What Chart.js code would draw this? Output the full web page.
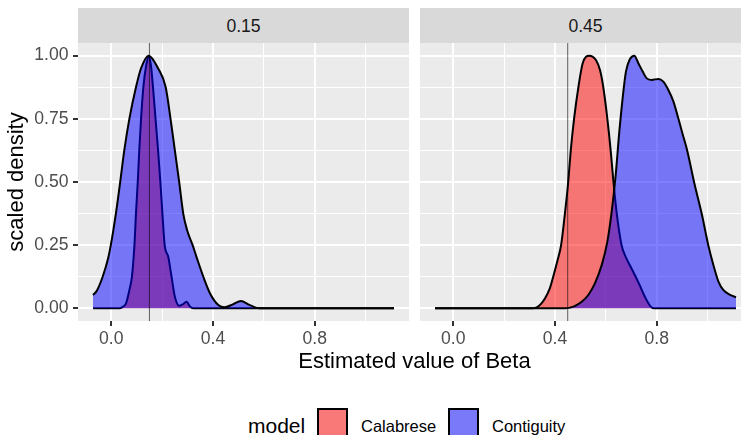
<!DOCTYPE html>
<html>
<head>
<meta charset="utf-8">
<script src="https://cdn.jsdelivr.net/npm/chart.js@4/dist/chart.umd.min.js"></script>
<style>
  html, body { margin: 0; padding: 0; background: #ffffff; }
  body { width: 741px; height: 435px; overflow: hidden; position: relative;
         font-family: "Liberation Sans", Arial, sans-serif; }
  .abs { position: absolute; white-space: nowrap; }
  .strip { position: absolute; top: 8px; height: 35px; background: #D9D9D9; }
  .striptxt { position: absolute; left: 0; right: 0; top: 10px; text-align: center;
              font-size: 17.6px; line-height: 17.6px; color: #1A1A1A; }
  .key { position: absolute; top: 408px; width: 27px; height: 27px; border: 2px solid #000; }
  canvas { position: absolute; }
</style>
</head>
<body>
<div class="strip" style="left:78px;width:331px;"><div class="striptxt" id="strip1"></div></div>
<div class="strip" style="left:420px;width:331px;"><div class="striptxt" id="strip2"></div></div>
<canvas id="c1" width="410" height="325" style="left:0px;top:28px;"></canvas>
<canvas id="c2" width="332" height="325" style="left:420px;top:28px;"></canvas>
<div class="abs" id="xtitle" style="left:0;width:829px;top:350px;text-align:center;font-size:22px;line-height:22px;color:#000;"></div>
<div class="abs" id="legtitle" style="left:248px;top:415px;font-size:21px;line-height:21px;color:#000;"></div>
<div class="key" style="left:317px;background:linear-gradient(rgba(255,0,0,0.5),rgba(255,0,0,0.5)),#F2F2F2;"></div>
<div class="abs" id="leg1" style="left:361px;top:418px;font-size:16.5px;line-height:16.5px;color:#000;"></div>
<div class="key" style="left:448px;background:linear-gradient(rgba(0,0,255,0.5),rgba(0,0,255,0.5)),#F2F2F2;"></div>
<div class="abs" id="leg2" style="left:492px;top:418px;font-size:16.5px;line-height:16.5px;color:#000;"></div>
<script>
// ---------- data ----------
const facetLabels = ['0.15', '0.45'];
const trueBeta = [0.15, 0.45];
const seriesNames = ['Calabrese', 'Contiguity'];
const legendTitle = 'model';
const xTitle = 'Estimated value of Beta';
const yTitle = 'scaled density';

const yMajor = [0, 0.25, 0.5, 0.75, 1.0];
const yMinor = [0.125, 0.375, 0.625, 0.875];
const yTickLabels = ['0.00', '0.25', '0.50', '0.75', '1.00'];
const xMajor = [0, 0.4, 0.8];
const xMinor = [0.2, 0.6, 1.0];
const xTickLabels = ['0.0', '0.4', '0.8'];

// facet 0.15 : Calabrese
const calab15X = [-0.072, 0.031, 0.045, 0.058, 0.071, 0.081, 0.091, 0.097, 0.104, 0.110, 0.117, 0.126, 0.137, 0.148,
                  0.156, 0.164, 0.174, 0.184, 0.193, 0.201, 0.210, 0.224, 0.237, 0.250, 0.267, 0.281, 0.296,
                  0.309, 0.322, 1.112];
const calab15Y = [0, 0, 0.006, 0.02, 0.072, 0.125, 0.25, 0.375, 0.5, 0.625, 0.75, 0.875, 0.96, 1.0,
                  0.96, 0.875, 0.75, 0.625, 0.5, 0.375, 0.25, 0.204, 0.125, 0.046, 0.01, 0.016, 0.026,
                  0.008, 0, 0];
// facet 0.15 : Contiguity
const contig15X = [-0.072, -0.057, -0.034, -0.012, -0.002, 0.018, 0.035, 0.051, 0.071, 0.097, 0.117, 0.147,
                   0.184, 0.214, 0.233, 0.25, 0.267, 0.283, 0.298, 0.32, 0.335, 0.362, 0.388, 0.421,
                   0.445, 0.478, 0.51, 0.541, 0.572, 0.60, 1.112];
const contig15Y = [0.053, 0.07, 0.125, 0.2, 0.25, 0.375, 0.5, 0.625, 0.75, 0.875, 0.95, 1.0,
                   0.95, 0.875, 0.75, 0.625, 0.5, 0.375, 0.31, 0.25, 0.204, 0.125, 0.06, 0.013,
                   0.004, 0.016, 0.029, 0.015, 0.002, 0, 0];
// facet 0.45 : Calabrese
const calab45X = [-0.072, 0.31, 0.328, 0.345, 0.361, 0.38, 0.393, 0.41, 0.424, 0.439, 0.452, 0.462, 0.475, 0.492,
                  0.509, 0.535, 0.561, 0.577, 0.59, 0.606, 0.619, 0.63, 0.643, 0.662, 0.68, 0.70, 0.715, 0.734,
                  0.754, 0.774, 0.79, 1.112];
const calab45Y = [0, 0, 0.004, 0.018, 0.04, 0.08, 0.125, 0.19, 0.25, 0.375, 0.5, 0.625, 0.75, 0.875,
                  0.97, 1.0, 0.983, 0.943, 0.875, 0.75, 0.625, 0.5, 0.375, 0.25, 0.2, 0.16, 0.13, 0.09,
                  0.045, 0.01, 0, 0];
// facet 0.45 : Contiguity
const contig45X = [-0.072, 0.44, 0.459, 0.479, 0.505, 0.531, 0.557, 0.584, 0.606, 0.623, 0.638, 0.653, 0.666,
                   0.679, 0.695, 0.712, 0.728, 0.745, 0.761, 0.78, 0.807, 0.826, 0.846, 0.866, 0.885, 0.903,
                   0.920, 0.947, 0.977, 1.003, 1.023, 1.043, 1.062, 1.089, 1.112];
const contig45Y = [0, 0, 0.003, 0.01, 0.026, 0.053, 0.099, 0.172, 0.264, 0.383, 0.52, 0.699, 0.831,
                   0.937, 0.987, 1.0, 0.97, 0.937, 0.91, 0.904, 0.908, 0.897, 0.864, 0.818, 0.752, 0.686,
                   0.625, 0.5, 0.375, 0.25, 0.172, 0.106, 0.073, 0.053, 0.044];

// ---------- helpers ----------
const FONT = '"Liberation Sans", Arial, sans-serif';
const xMin = -0.131, xMax = 1.171, yMin = -0.05, yMax = 1.05;
const pts = (xs, ys) => xs.map((x, i) => ({ x: x, y: ys[i] }));
const isMajorY = v => yMajor.indexOf(v) >= 0;
const isMajorX = v => xMajor.indexOf(v) >= 0;

document.getElementById('strip1').textContent = facetLabels[0];
document.getElementById('strip2').textContent = facetLabels[1];
document.getElementById('xtitle').textContent = xTitle;
document.getElementById('legtitle').textContent = legendTitle;
document.getElementById('leg1').textContent = seriesNames[0];
document.getElementById('leg2').textContent = seriesNames[1];

const panelBg = {
  id: 'panelBg',
  beforeDraw(chart) {
    const a = chart.chartArea, ctx = chart.ctx;
    ctx.save();
    ctx.fillStyle = '#EBEBEB';
    ctx.fillRect(a.left, a.top, a.right - a.left, a.bottom - a.top);
    ctx.restore();
  }
};

function makeChart(id, calX, calY, conX, conY, beta, showY) {
  return new Chart(document.getElementById(id), {
    type: 'line',
    data: {
      datasets: [
        { label: 'beta', data: [{ x: beta, y: yMin }, { x: beta, y: yMax }],
          borderColor: 'rgba(0,0,0,0.6)', borderWidth: 1, pointRadius: 0, fill: false, order: 0 },
        { label: seriesNames[1], data: pts(conX, conY), borderColor: '#000000', borderWidth: 2,
          backgroundColor: 'rgba(0,0,255,0.5)', fill: 'origin', pointRadius: 0,
          cubicInterpolationMode: 'monotone', order: 1 },
        { label: seriesNames[0], data: pts(calX, calY), borderColor: '#000000', borderWidth: 2,
          backgroundColor: 'rgba(255,0,0,0.5)', fill: 'origin', pointRadius: 0,
          cubicInterpolationMode: 'monotone', order: 2 }
      ]
    },
    options: {
      responsive: false,
      maintainAspectRatio: false,
      animation: false,
      events: [],
      layout: { padding: { top: 15, right: 1, left: 0, bottom: 0 } },
      plugins: { legend: { display: false }, tooltip: { enabled: false }, title: { display: false } },
      scales: {
        x: {
          type: 'linear', min: xMin, max: xMax,
          afterBuildTicks: ax => { ax.ticks = xMajor.concat(xMinor).sort((a, b) => a - b).map(v => ({ value: v })); },
          afterFit: ax => { ax.height = 32; ax.paddingLeft = 0; ax.paddingRight = 0; },
          border: { display: false },
          grid: {
            color: '#FFFFFF',
            lineWidth: c => (c.tick && isMajorX(c.tick.value)) ? 2 : 1,
            drawTicks: true, tickLength: 5,
            tickColor: c => (c.tick && isMajorX(c.tick.value)) ? '#333333' : 'rgba(0,0,0,0)',
            tickWidth: 2
          },
          ticks: {
            autoSkip: false, maxRotation: 0, padding: 3, color: '#4D4D4D',
            font: { family: FONT, size: 17.6 },
            callback: v => { const i = xMajor.indexOf(v); return i >= 0 ? xTickLabels[i] : ''; }
          }
        },
        y: {
          type: 'linear', min: yMin, max: yMax,
          afterBuildTicks: ax => { ax.ticks = yMajor.concat(yMinor).sort((a, b) => a - b).map(v => ({ value: v })); },
          afterFit: ax => { ax.width = showY ? 78 : 0; ax.paddingTop = 0; ax.paddingBottom = 0; },
          border: { display: false },
          title: { display: showY, text: yTitle, color: '#000000', font: { family: FONT, size: 22 },
                   padding: { top: 4, bottom: 0 } },
          grid: {
            color: '#FFFFFF',
            lineWidth: c => (c.tick && isMajorY(c.tick.value)) ? 2 : 1,
            drawTicks: showY, tickLength: 5,
            tickColor: c => (c.tick && isMajorY(c.tick.value)) ? '#333333' : 'rgba(0,0,0,0)',
            tickWidth: 2
          },
          ticks: {
            display: showY, autoSkip: false, padding: 4.5, color: '#4D4D4D',
            font: { family: FONT, size: 17.6 },
            callback: v => { const i = yMajor.indexOf(v); return i >= 0 ? yTickLabels[i] : ''; }
          }
        }
      }
    },
    plugins: [panelBg]
  });
}

makeChart('c1', calab15X, calab15Y, contig15X, contig15Y, trueBeta[0], true);
makeChart('c2', calab45X, calab45Y, contig45X, contig45Y, trueBeta[1], false);
</script>
</body>
</html>
